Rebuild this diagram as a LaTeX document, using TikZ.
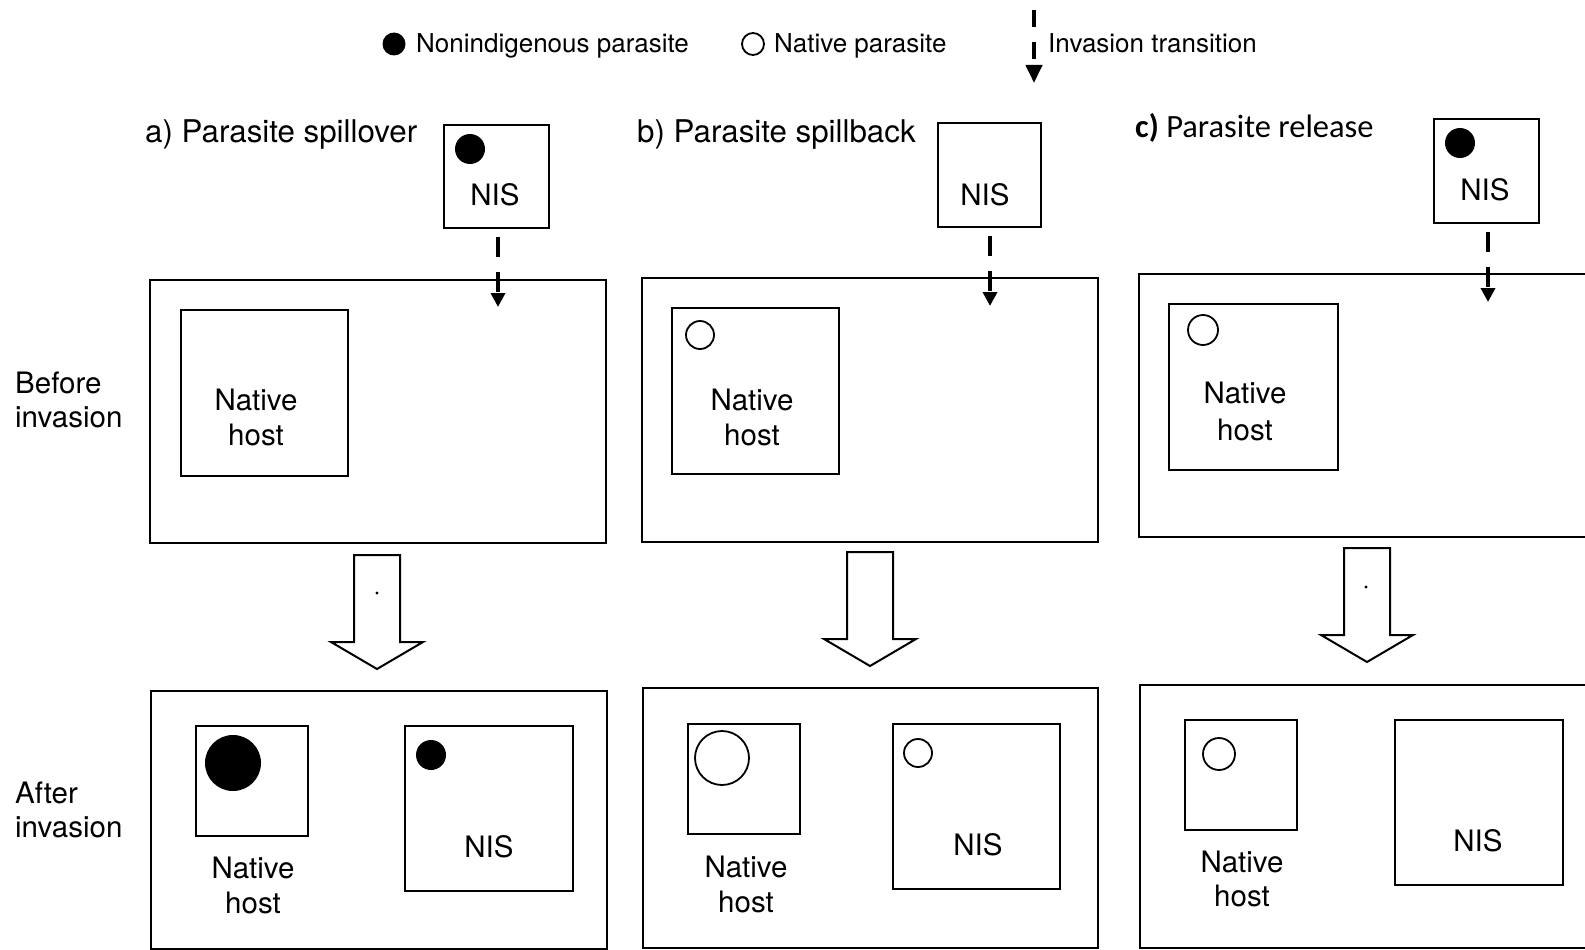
\documentclass[tikz,border=0pt]{standalone}
\usepackage{fontspec}
\setmainfont{TeX Gyre Heros}
\newfontfamily\calibfont{Carlito}
\usetikzlibrary{arrows.meta}
\newcommand\blockarr[2]{%
  \draw[blk] (#1-23,#2) -- (#1+23,#2) -- (#1+23,#2+87) -- (#1+46,#2+87)
    -- (#1,#2+114) -- (#1-46,#2+87) -- (#1-23,#2+87) -- cycle;}
\begin{document}
\begin{tikzpicture}[x=1pt,y=-1pt,
  box/.style={draw, line width=2pt, inner sep=0pt, anchor=north west},
  lbl/.style={font=\fontsize{29.5}{35}\selectfont, anchor=base, inner sep=0pt},
  leg/.style={font=\fontsize{26}{30}\selectfont, anchor=base west, inner sep=0pt},
  ttl/.style={font=\fontsize{31.3}{36}\selectfont, anchor=base west, inner sep=0pt},
  inv/.style={line width=4pt, dash pattern=on 20pt off 15pt, -{Triangle[length=14pt,width=14pt]}, shorten <=8pt},
  invleg/.style={line width=4pt, dash pattern=on 17pt off 15pt, -{Triangle[length=18pt,width=16pt]}},
  blk/.style={draw, fill=white, line width=2pt, line join=miter},
  para/.style={line width=1.8pt},
]
\useasboundingbox (0,0) rectangle (1585,950);
\clip (0,0) rectangle (1585,950);

% ---------- legend ----------
\fill (394,44) circle[radius=11.5pt];
\node[leg] (legNon) at (416,53) {Nonindigenous parasite};
\draw[para] (753,44) circle[radius=11pt];
\node[leg] (legNat) at (774,53) {Native parasite};
\coordinate (legTop) at (1034,10);
\coordinate (legTip) at (1034,83);
\draw[invleg] (legTop) -- (legTip);
\node[leg] (legInv) at (1048,53) {Invasion transition};

% ---------- row labels ----------
\node[lbl, anchor=base west] (bef1) at (15,393) {Before};
\node[lbl, anchor=base west] (bef2) at (15,427) {invasion};
\node[lbl, anchor=base west] (aft1) at (15,803) {After};
\node[lbl, anchor=base west] (aft2) at (15,837) {invasion};

% ---------- column a ----------
\node[ttl] (ttlA) at (145,142) {a) Parasite spillover};
\node[box, minimum width=105pt, minimum height=103pt] (nisA) at (443,124) {};
\fill (470,149) circle[radius=15pt];
\node[lbl] (nisAt) at (495,205) {NIS};
\node[box, minimum width=456pt, minimum height=263pt] (befA) at (149,279) {};
\node[box, minimum width=167pt, minimum height=166pt] (nhA) at (180,309) {};
\node[lbl] (nhAt1) at (256,410) {Native};
\node[lbl] (nhAt2) at (256,445) {host};
\coordinate (tipA) at (498,307);
\draw[inv] (nisA.south -| tipA) -- (tipA);
\blockarr{377}{555}
\fill (377,593) circle[radius=1.6pt];
\node[box, minimum width=456pt, minimum height=258pt] (aftA) at (150,690) {};
\node[box, minimum width=112pt, minimum height=110pt] (anA) at (195,725) {};
\fill (233,763) circle[radius=28pt];
\node[lbl] (anAt1) at (253,878) {Native};
\node[lbl] (anAt2) at (253,913) {host};
\node[box, minimum width=168pt, minimum height=165pt] (anisA) at (404,725) {};
\fill (431,755) circle[radius=15pt];
\node[lbl] (anisAt) at (489,857) {NIS};

% ---------- column b ----------
\node[ttl] (ttlB) at (637,142) {b) Parasite spillback};
\node[box, minimum width=103pt, minimum height=104pt] (nisB) at (937,122) {};
\node[lbl] (nisBt) at (985,205) {NIS};
\node[box, minimum width=456pt, minimum height=264pt] (befB) at (641,277) {};
\node[box, minimum width=167pt, minimum height=166pt] (nhB) at (671,307) {};
\draw[para] (700,335) circle[radius=14pt];
\node[lbl] (nhBt1) at (752,410) {Native};
\node[lbl] (nhBt2) at (752,445) {host};
\coordinate (tipB) at (990,306);
\draw[inv] (nisB.south -| tipB) -- (tipB);
\blockarr{870}{552}
\node[box, minimum width=455pt, minimum height=260pt] (aftB) at (642,687) {};
\node[box, minimum width=112pt, minimum height=110pt] (anB) at (687,723) {};
\draw[para] (722,758) circle[radius=27pt];
\node[lbl] (anBt1) at (746,877) {Native};
\node[lbl] (anBt2) at (746,912) {host};
\node[box, minimum width=167pt, minimum height=165pt] (anisB) at (892,723) {};
\draw[para] (918,753) circle[radius=14pt];
\node[lbl] (anisBt) at (978,855) {NIS};

% ---------- column c ----------
\node[inner sep=0pt, anchor=base west, font=\calibfont\fontsize{32.5}{38}\selectfont] (ttlC) at (1135,137) {\textbf{c)} Parasite release};
\node[box, minimum width=105pt, minimum height=104pt] (nisC) at (1433,118) {};
\fill (1460,143) circle[radius=15pt];
\node[lbl] (nisCt) at (1485,200) {NIS};
\node[box, minimum width=460pt, minimum height=263pt] (befC) at (1138,273) {};
\node[box, minimum width=169pt, minimum height=166pt] (nhC) at (1168,303) {};
\draw[para] (1203,330) circle[radius=15pt];
\node[lbl] (nhCt1) at (1245,403) {Native};
\node[lbl] (nhCt2) at (1245,440) {host};
\coordinate (tipC) at (1488,302);
\draw[inv] (nisC.south -| tipC) -- (tipC);
\blockarr{1367}{548}
\fill (1366,587) circle[radius=1.6pt];
\node[box, minimum width=460pt, minimum height=263pt] (aftC) at (1139,684) {};
\node[box, minimum width=112pt, minimum height=110pt] (anC) at (1184,719) {};
\draw[para] (1219,754) circle[radius=16pt];
\node[lbl] (anCt1) at (1242,872) {Native};
\node[lbl] (anCt2) at (1242,906) {host};
\node[box, minimum width=168pt, minimum height=165pt] (anisC) at (1394,719) {};
\node[lbl] (anisCt) at (1478,851) {NIS};
\end{tikzpicture}
\end{document}
